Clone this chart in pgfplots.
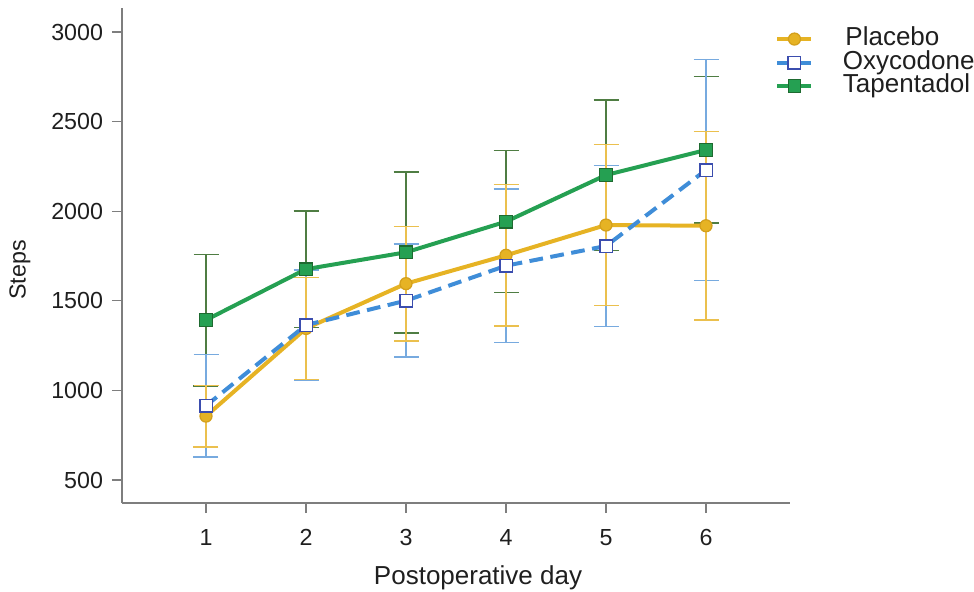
\documentclass[border=0pt]{standalone}
\usepackage{fontspec}
\setmainfont{Liberation Sans}
\usepackage{pgfplots}
\pgfplotsset{compat=1.18}
\usetikzlibrary{calc}

\definecolor{plc}{HTML}{E6B324}
\definecolor{plcerr}{HTML}{EBC04E}
\definecolor{plcedge}{HTML}{D4A01C}
\definecolor{oxy}{HTML}{3F8DD8}
\definecolor{oxyerr}{HTML}{77AADF}
\definecolor{oxyedge}{HTML}{3B4DAE}
\definecolor{tap}{HTML}{25A052}
\definecolor{taperr}{HTML}{4F7D43}
\definecolor{tapedge}{HTML}{1E6A30}
\definecolor{axgray}{HTML}{7E7E7E}

\newcommand\chartfont{\fontsize{9.3}{11}\selectfont}
\newcommand\bigfont{\fontsize{10.4}{12}\selectfont}

% day, mean steps, error (symmetric)
\pgfplotstableread{
x y e
1 857 172
2 1346 285
3 1596 320
4 1754 394
5 1923 448
6 1919 526
}\placebo
\pgfplotstableread{
x y e
1 915 285
2 1365 307
3 1501 315
4 1696 429
5 1806 448
6 2230 617
}\oxycodone
\pgfplotstableread{
x y e
1 1393 367
2 1677 325
3 1771 449
4 1942 396
5 2202 420
6 2342 409
}\tapentadol

\begin{document}
\begin{tikzpicture}
\begin{axis}[
    scale only axis,
    width=267.2pt, height=198pt,
    xmin=0.16, xmax=6.84,
    ymin=372, ymax=3134,
    axis x line*=bottom,
    axis y line*=left,
    axis line style={axgray, line width=0.8pt},
    xtick={1,2,3,4,5,6},
    ytick={500,1000,1500,2000,2500,3000},
    tick align=outside,
    major tick length=4pt,
    tick style={axgray, line width=0.5pt},
    scaled y ticks=false,
    /pgf/number format/assume math mode=true,
    /pgf/number format/1000 sep={},
    tick label style={font=\chartfont, text=black!88},
    yticklabel style={inner sep=0pt, xshift=-3.4pt},
    xticklabel style={inner sep=0pt, yshift=-6.2pt},
    xlabel={Postoperative day},
    ylabel={Steps},
    label style={text=black!88},
    xlabel style={font=\bigfont, at={(axis description cs:0.533,-0.152)}, anchor=center},
    ylabel style={font=\chartfont, at={(axis description cs:-0.153,0.471)}, anchor=center},
    legend style={
        at={(0.9775,0.962)}, anchor=north west,
        draw=none, fill=none, inner sep=0pt,
        font=\bigfont, text=black!88,
        column sep=11.8pt, row sep=0pt,
        nodes={inner sep=0pt, text height=7.3pt, text depth=2.1pt, anchor=west},
        legend cell align=left,
    },
    legend image code/.code={
        \draw[mark repeat=2, mark phase=2] plot coordinates {(0pt,0pt) (6.8pt,0pt) (13.6pt,0pt)};
    },
]

% error bars (drawn first, no line)
\addplot[only marks, mark=none, forget plot,
    error bars/.cd, y dir=both, y explicit,
    error bar style={taperr, line width=0.6pt},
    error mark options={rotate=90, mark size=5pt, taperr, line width=0.6pt}]
    table[x=x, y=y, y error=e] {\tapentadol};
\addplot[only marks, mark=none, forget plot,
    error bars/.cd, y dir=both, y explicit,
    error bar style={oxyerr, line width=0.6pt},
    error mark options={rotate=90, mark size=5pt, oxyerr, line width=0.6pt}]
    table[x=x, y=y, y error=e] {\oxycodone};
\addplot[only marks, mark=none, forget plot,
    error bars/.cd, y dir=both, y explicit,
    error bar style={plcerr, line width=0.6pt},
    error mark options={rotate=90, mark size=5pt, plcerr, line width=0.6pt}]
    table[x=x, y=y, y error=e] {\placebo};

% means
\addplot[plc, line width=1.6pt, mark=*, mark size=2.4pt,
    mark options={solid, fill=plc, draw=plcedge, line width=0.5pt}]
    table[x=x, y=y] {\placebo};
\addlegendentry{\hspace{1pt}Placebo}
\addplot[oxy, line width=1.6pt, dash pattern=on 5.5pt off 3pt, mark=square*, mark size=2.5pt,
    mark options={solid, fill=white, draw=oxyedge, line width=0.6pt}]
    table[x=x, y=y] {\oxycodone};
\addlegendentry{Oxycodone}
\addplot[tap, line width=1.6pt, mark=square*, mark size=2.5pt,
    mark options={solid, fill=tap, draw=tapedge, line width=0.5pt}]
    table[x=x, y=y] {\tapentadol};
\addlegendentry{Tapentadol}

\coordinate (bl) at (rel axis cs:0,0);
\coordinate (tr) at (rel axis cs:1,1);
\end{axis}
\pgfresetboundingbox
\path ($(bl)+(-48.8pt,-35.2pt)$) rectangle ($(tr)+(73.6pt,3.2pt)$);
\end{tikzpicture}
\end{document}
